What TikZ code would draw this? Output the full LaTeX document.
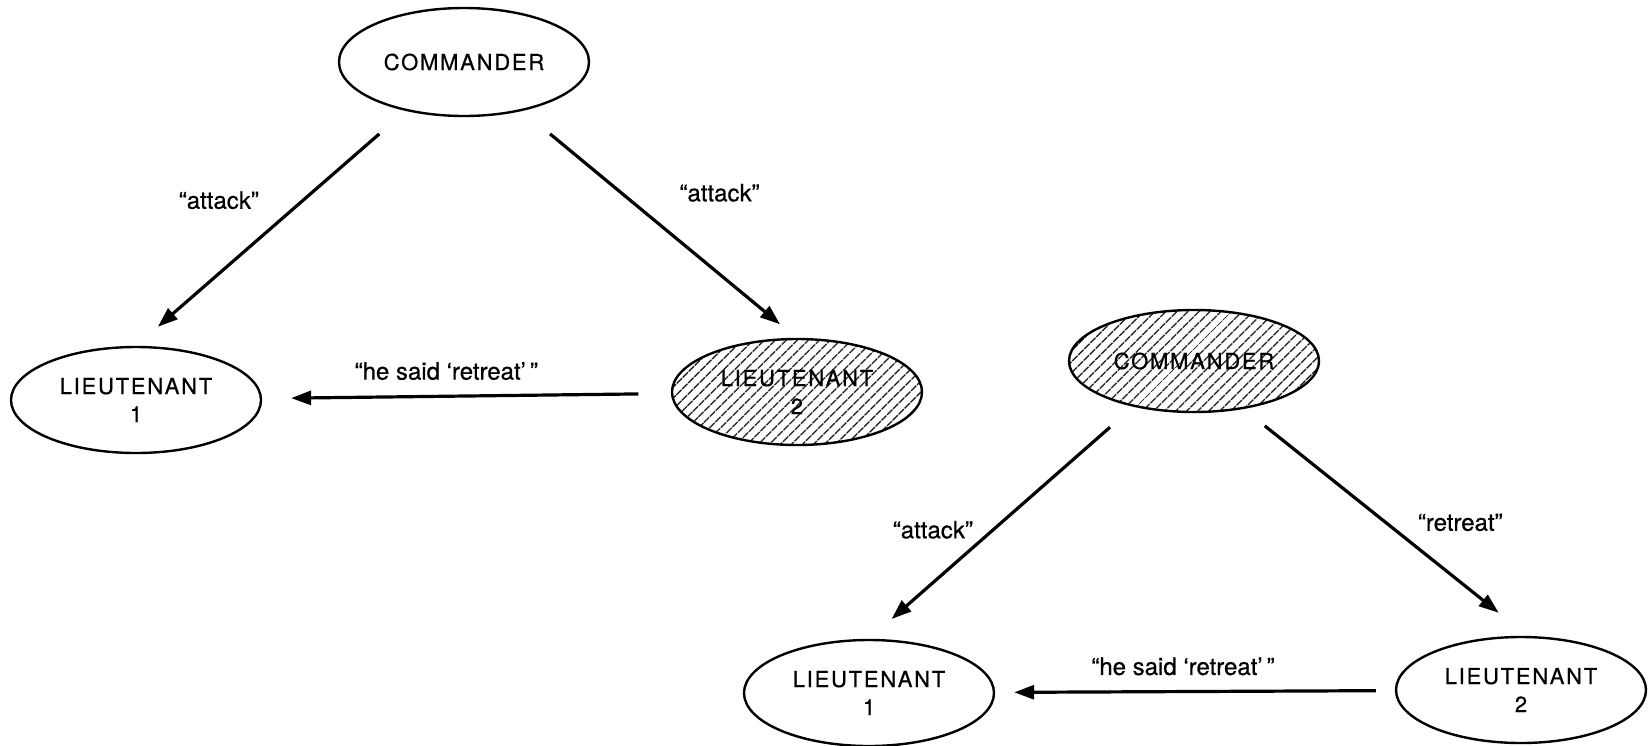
\documentclass[tikz,border=0pt]{standalone}
\usepackage{fontspec}
\setmainfont{TeX Gyre Heros}
\usetikzlibrary{arrows.meta,patterns.meta,shapes.geometric,positioning}

\begin{document}
\begin{tikzpicture}[x=0.5pt,y=-0.5pt,
  actor/.style={ellipse,draw,line width=1.2pt,inner sep=0pt,minimum width=125pt,
    minimum height=53pt,align=center,
    font=\fontsize{11}{14}\selectfont\addfontfeatures{LetterSpace=8,FakeBold=0.6}},
  traitor/.style={actor,pattern={Lines[angle=45,distance=4pt,line width=0.7pt]}},
  order/.style={line width=1.6pt,-{Triangle[length=10pt,width=7pt]}},
  said/.style={font=\fontsize{12}{14}\selectfont\addfontfeatures{FakeBold=0.5}}]
\useasboundingbox (0,0) rectangle (1649,745);
% traitor is lieutenant 2
\node[actor,minimum height=54pt] (C1) at (464,62) {COMMANDER};
\node[actor] (L1t) at (136,400) {LIEUTENANT\\1};
\node[traitor] (L2t) at (797,392) {LIEUTENANT\\2};
% traitor is the commander
\node[traitor,minimum height=51pt] (C2) at (1194,361) {COMMANDER};
\node[actor] (L1b) at (869,693) {LIEUTENANT\\1};
\node[actor] (L2b) at (1521,690) {LIEUTENANT\\2};
\path
  (C1.220) edge[order,shorten <=17.5pt,shorten >=14.5pt] node[said,pos=0.38,left=18pt] {``attack''} (L1t.90)
  (C1.320) edge[order,shorten <=18pt,shorten >=11pt] node[said,pos=0.36,right=25pt] {``attack''} (L2t.90)
  (L2t) edge[order,shorten <=16.5pt,shorten >=14.5pt] node[said,pos=0.55,above=4pt] {``he said `retreat'\,''} (L1t)
  (C2.217) edge[order,shorten <=15.5pt,shorten >=15pt] node[said,pos=0.53,left=6pt] {``attack''} (L1b.90)
  (C2.316) edge[order,shorten <=13.5pt,shorten >=18.5pt] node[said,pos=0.5,right=12pt] {``retreat''} (L2b.83)
  (L2b) edge[order,shorten <=9.5pt,shorten >=9.5pt] node[said,pos=0.53,above=4pt] {``he said `retreat'\,''} (L1b)
;
\end{tikzpicture}
\end{document}
